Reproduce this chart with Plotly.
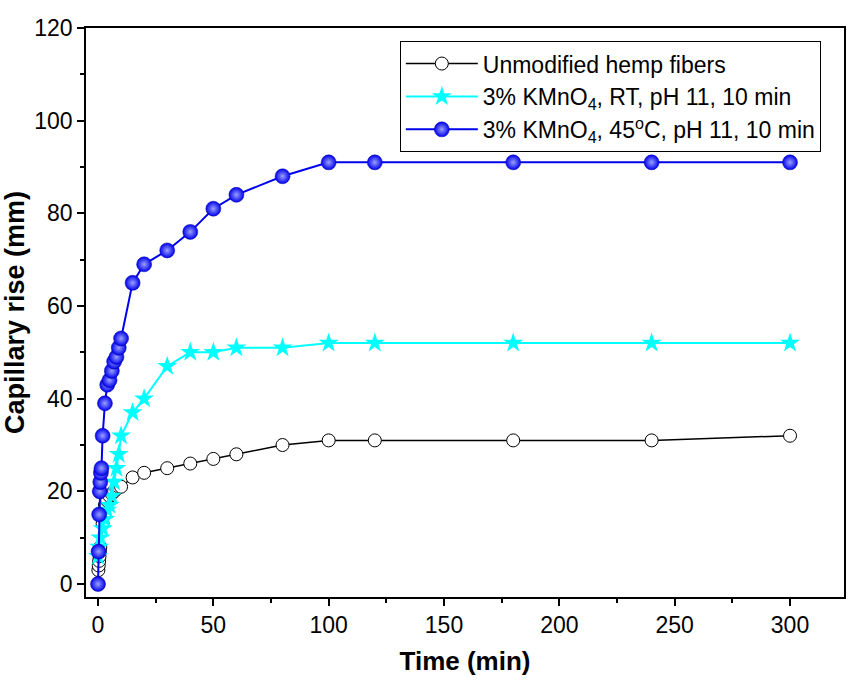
import plotly.graph_objects as go

# Data
t_unmod = [0.17, 0.33, 0.5, 0.67, 0.83, 1, 2, 3, 4, 5, 6, 7, 8, 9, 10, 15, 20, 30, 40, 50, 60, 80, 100, 120, 180, 240, 300]
y_unmod = [3, 4, 5, 6, 7, 8, 13, 17, 18, 19, 19.5, 20, 20.5, 21, 21, 23, 24, 25, 26, 27, 28, 30, 31, 31, 31, 31, 32]

t_rt = [0, 0.5, 1, 2, 3, 4, 5, 6, 7, 8, 9, 10, 15, 20, 30, 40, 50, 60, 80, 100, 120, 180, 240, 300]
y_rt = [6, 8, 10, 12, 14, 16, 17, 19, 22, 25, 28, 32, 37, 40, 47, 50, 50, 51, 51, 52, 52, 52, 52, 52]

t_45 = [0, 0.25, 0.5, 0.75, 1, 1.25, 1.5, 2, 3, 4, 5, 6, 7, 8, 9, 10, 15, 20, 30, 40, 50, 60, 80, 100, 120, 180, 240, 300]
y_45 = [0, 7, 15, 20, 22, 24, 25, 32, 39, 43, 44, 46, 48, 49, 51, 53, 65, 69, 72, 76, 81, 84, 88, 91, 91, 91, 91, 91]

names = ["Unmodified hemp fibers",
         "3% KMnO<sub>4</sub>, RT, pH 11, 10 min",
         "3% KMnO<sub>4</sub>, 45<sup>o</sup>C, pH 11, 10 min"]

FONT = "Liberation Sans, Arial"

fig = go.Figure()
fig.add_trace(go.Scatter(x=t_unmod, y=y_unmod, mode="lines+markers", name=names[0],
                         line=dict(color="black", width=1.5),
                         marker=dict(symbol="circle", size=13, color="white",
                                     line=dict(color="black", width=1))))
fig.add_trace(go.Scatter(x=t_rt, y=y_rt, mode="lines+markers", name=names[1],
                         line=dict(color="#00FFFF", width=2),
                         marker=dict(symbol="star", size=15, color="#00FFFF",
                                     line=dict(width=0))))
fig.add_trace(go.Scatter(x=t_45, y=y_45, mode="lines+markers", name=names[2],
                         line=dict(color="#0000EE", width=2),
                         marker=dict(symbol="circle", size=15, color="#0000EE",
                                     gradient=dict(type="radial", color="#9aa0ff"),
                                     line=dict(color="#0000AA", width=0.5))))

axis_common = dict(showline=True, linecolor="black", linewidth=1.5, mirror=True,
                   ticks="outside", ticklen=7, tickwidth=1.5, tickcolor="black",
                   showgrid=False, zeroline=False,
                   tickfont=dict(family=FONT, size=23, color="black"))

fig.update_xaxes(range=[-5.2, 323.4], tickmode="linear", tick0=0, dtick=50,
                 minor=dict(ticks="outside", ticklen=4, tickwidth=1.5, tickcolor="black", dtick=25, tick0=0),
                 title=dict(text="<b>Time (min)</b>", font=dict(family=FONT, size=26, color="black"), standoff=14),
                 **axis_common)
fig.update_yaxes(range=[-2.8, 120], tickmode="linear", tick0=0, dtick=20,
                 minor=dict(ticks="outside", ticklen=4, tickwidth=1.5, tickcolor="black", dtick=10, tick0=0),
                 title=dict(text="<b>Capillary rise (mm)</b>", font=dict(family=FONT, size=27, color="black"), standoff=2),
                 **axis_common)

fig.update_layout(
    width=848, height=684,
    margin=dict(l=86, r=2, t=28, b=87),
    plot_bgcolor="white", paper_bgcolor="white",
    showlegend=True,
    legend=dict(x=0.414, y=0.977, xanchor="left", yanchor="top",
                bordercolor="black", borderwidth=1, bgcolor="white",
                font=dict(family=FONT, size=23, color="black"),
                itemwidth=72, tracegroupgap=0),
)

fig.write_html("out.html")
